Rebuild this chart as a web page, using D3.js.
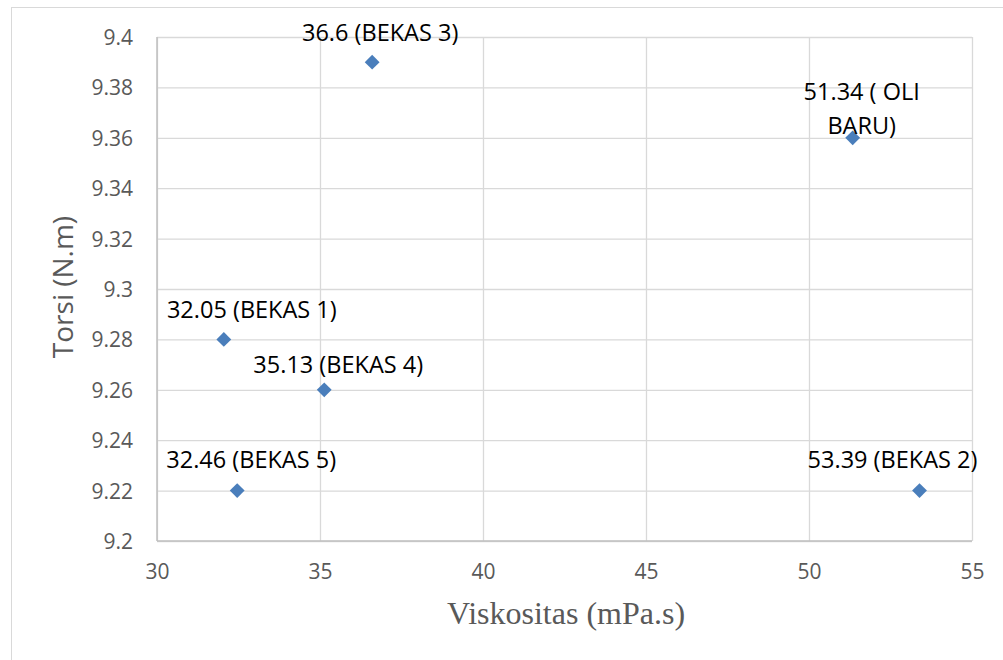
<!DOCTYPE html>
<html>
<head>
<meta charset="utf-8">
<script src="https://cdn.jsdelivr.net/npm/d3@7"></script>
<style>
  html, body { margin: 0; padding: 0; background: #ffffff; }
  svg { display: block; }
</style>
</head>
<body>
<script>
// Viscosity vs torque for new and used oil samples
const viskositas = [32.05, 53.39, 36.6, 35.13, 32.46, 51.34];
const torsi      = [9.28, 9.22, 9.39, 9.26, 9.22, 9.36];
const labels     = [
  ["32.05 (BEKAS 1)"],
  ["53.39 (BEKAS 2)"],
  ["36.6 (BEKAS 3)"],
  ["35.13 (BEKAS 4)"],
  ["32.46 (BEKAS 5)"],
  ["51.34 ( OLI", "BARU)"]
];
const xTicks = [30, 35, 40, 45, 50, 55];
const yTicks = [9.2, 9.22, 9.24, 9.26, 9.28, 9.3, 9.32, 9.34, 9.36, 9.38, 9.4];

// label placement relative to each marker (text centre, baseline of last line)
const labelOffsets = [
  [28, -21], [-27, -22.5], [8, -21.5], [14, -17], [14, -22.5], [9, -4]
];

const W = 1003, H = 660;
const plot = { left: 157, right: 972, top: 37, bottom: 541 };

const svg = d3.select("body").append("svg")
  .attr("width", W).attr("height", H);

// outer chart frame
svg.append("rect")
  .attr("x", 11.5).attr("y", 7.5)
  .attr("width", W + 20).attr("height", H + 20)
  .attr("fill", "#fff").attr("stroke", "#d9d9d9").attr("stroke-width", 1);

const x = d3.scaleLinear().domain([30, 55]).range([plot.left, plot.right]);
const y = d3.scaleLinear().domain([9.2, 9.4]).range([plot.bottom, plot.top]);

const fmtY = d => String(+d.toFixed(2));

// gridlines
svg.append("g")
  .attr("transform", `translate(0,${plot.bottom})`)
  .call(d3.axisBottom(x).tickValues(xTicks).tickSize(-(plot.bottom - plot.top)).tickFormat(""))
  .call(g => g.select(".domain").remove())
  .call(g => g.selectAll("line").attr("stroke", "#d9d9d9").attr("stroke-width", 1.3));

svg.append("g")
  .attr("transform", `translate(${plot.left},0)`)
  .call(d3.axisLeft(y).tickValues(yTicks).tickSize(-(plot.right - plot.left)).tickFormat(""))
  .call(g => g.select(".domain").remove())
  .call(g => g.selectAll("line").attr("stroke", "#d9d9d9").attr("stroke-width", 1.3));

// axis lines
svg.append("line")
  .attr("x1", plot.left).attr("x2", plot.right)
  .attr("y1", y(9.2)).attr("y2", y(9.2))
  .attr("stroke", "#bfbfbf").attr("stroke-width", 1.5);
svg.append("line")
  .attr("x1", x(30)).attr("x2", x(30))
  .attr("y1", plot.top).attr("y2", plot.bottom)
  .attr("stroke", "#bfbfbf").attr("stroke-width", 1.5);

// tick labels
const tickFont = "'Open Sans', sans-serif";
svg.append("g")
  .attr("transform", `translate(0,${plot.bottom})`)
  .call(d3.axisBottom(x).tickValues(xTicks).tickSize(0).tickPadding(0))
  .call(g => g.select(".domain").remove())
  .call(g => g.selectAll("text")
    .attr("dy", null).attr("y", 38)
    .attr("fill", "#595959")
    .style("font-family", tickFont).style("font-size", "21px"));

svg.append("g")
  .attr("transform", `translate(${plot.left},0)`)
  .call(d3.axisLeft(y).tickValues(yTicks).tickSize(0).tickPadding(0).tickFormat(fmtY))
  .call(g => g.select(".domain").remove())
  .call(g => g.selectAll("text")
    .attr("x", -24).attr("dy", "0.36em")
    .attr("fill", "#595959")
    .style("font-family", tickFont).style("font-size", "21px"));

// axis titles
svg.append("text")
  .attr("x", 566).attr("y", 624)
  .attr("text-anchor", "middle")
  .attr("fill", "#595959")
  .style("font-family", "'Liberation Serif', serif")
  .style("font-size", "32px")
  .text("Viskositas (mPa.s)");

svg.append("text")
  .attr("transform", "translate(73,287) rotate(-90)")
  .attr("text-anchor", "middle")
  .attr("fill", "#595959")
  .style("font-family", tickFont)
  .style("font-size", "28px")
  .text("Torsi (N.m)");

// markers
const pts = viskositas.map((v, i) => ({ v, t: torsi[i], lab: labels[i], off: labelOffsets[i] }));

svg.append("g").selectAll("path")
  .data(pts)
  .join("path")
  .attr("d", d3.symbol(d3.symbolSquare, 110)())
  .attr("transform", d => `translate(${x(d.v)},${y(d.t)}) rotate(45)`)
  .attr("fill", "#4a7ebb");

// data labels
const lab = svg.append("g").selectAll("text")
  .data(pts)
  .join("text")
  .attr("text-anchor", "middle")
  .attr("fill", "#000")
  .style("font-family", tickFont)
  .style("font-size", "23.5px");

lab.each(function (d) {
  const t = d3.select(this);
  const n = d.lab.length;
  d.lab.forEach((line, k) => {
    t.append("tspan")
      .attr("x", x(d.v) + d.off[0])
      .attr("y", y(d.t) + d.off[1] - (n - 1 - k) * 34)
      .text(line);
  });
});
</script>
</body>
</html>
